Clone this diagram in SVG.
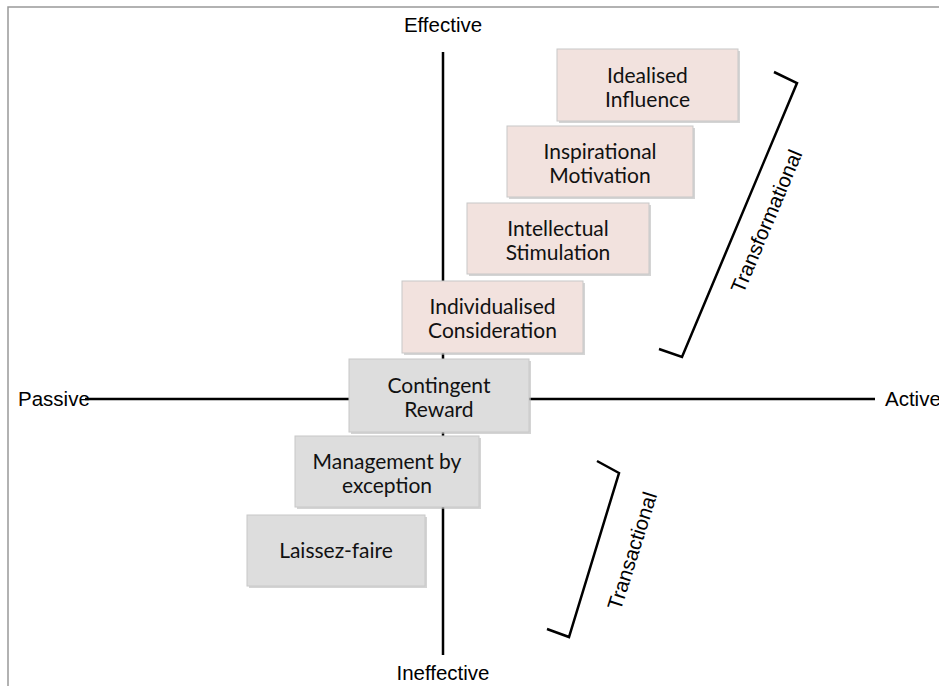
<svg xmlns="http://www.w3.org/2000/svg" width="939" height="686" viewBox="0 0 939 686">
<style>
.ax{stroke:#000;stroke-width:2.5;fill:none}
.br{stroke:#000;stroke-width:2.5;fill:none;stroke-linejoin:miter}
.lbl{font-family:"Liberation Sans",Arial,sans-serif;font-size:20.5px;fill:#000}
.bx{stroke:#c8c8c8;stroke-width:1}
.pk{fill:#f2e2de}
.gy{fill:#dddddd}
.sh{fill:#b8b8b8;opacity:0.6}
.bt{font-family:Lato,"Open Sans",sans-serif;font-size:21px;fill:#111;text-anchor:middle}
</style>
<rect x="0" y="0" width="939" height="686" fill="#fff"/>
<rect x="8" y="7" width="960" height="720" fill="none" stroke="#999" stroke-width="1.5"/>
<g id="connectors">
<line class="ax" x1="443" y1="52" x2="443" y2="655"/>
<line class="ax" x1="85" y1="399" x2="875" y2="399"/>
<polyline id="bracket-transformational" class="br" points="774,72 797,83 682,357 659,349"/>
<polyline id="bracket-transactional" class="br" points="597,461 619,473 569,637 547,629"/>
</g>
<g id="axis-labels">
<text class="lbl" x="443" y="32" text-anchor="middle">Effective</text>
<text class="lbl" x="443" y="680" text-anchor="middle">Ineffective</text>
<text class="lbl" x="18" y="406">Passive</text>
<text class="lbl" x="885" y="406">Active</text>
<text class="lbl" x="0" y="0" text-anchor="middle" transform="translate(773,224) rotate(-67.2)">Transformational</text>
<text class="lbl" x="0" y="0" text-anchor="middle" transform="translate(639,553) rotate(-72.5)">Transactional</text>
</g>
<g id="n1"><rect class="sh" x="559" y="51" width="181" height="72"/><rect class="bx pk" x="557" y="49" width="181" height="72"/><text class="bt" x="647.5" y="83">Idealised</text><text class="bt" x="647.5" y="107">Influence</text></g>
<g id="n2"><rect class="sh" x="509" y="128" width="186" height="71"/><rect class="bx pk" x="507" y="126" width="186" height="71"/><text class="bt" x="600" y="159">Inspirational</text><text class="bt" x="600" y="183">Motivation</text></g>
<g id="n3"><rect class="sh" x="469" y="205" width="182" height="71"/><rect class="bx pk" x="467" y="203" width="182" height="71"/><text class="bt" x="558" y="236">Intellectual</text><text class="bt" x="558" y="260">Stimulation</text></g>
<g id="n4"><rect class="sh" x="404" y="283" width="181" height="72"/><rect class="bx pk" x="402" y="281" width="181" height="72"/><text class="bt" x="492.5" y="314">Individualised</text><text class="bt" x="492.5" y="338">Consideration</text></g>
<g id="n5"><rect class="sh" x="351" y="361" width="180" height="73"/><rect class="bx gy" x="349" y="359" width="180" height="73"/><text class="bt" x="439" y="393">Contingent</text><text class="bt" x="439" y="417">Reward</text></g>
<g id="n6"><rect class="sh" x="297" y="438" width="184" height="71"/><rect class="bx gy" x="295" y="436" width="184" height="71"/><text class="bt" x="387" y="469">Management by</text><text class="bt" x="387" y="493">exception</text></g>
<g id="n7"><rect class="sh" x="249" y="517" width="178" height="71"/><rect class="bx gy" x="247" y="515" width="178" height="71"/><text class="bt" x="336" y="558">Laissez-faire</text></g>
</svg>
